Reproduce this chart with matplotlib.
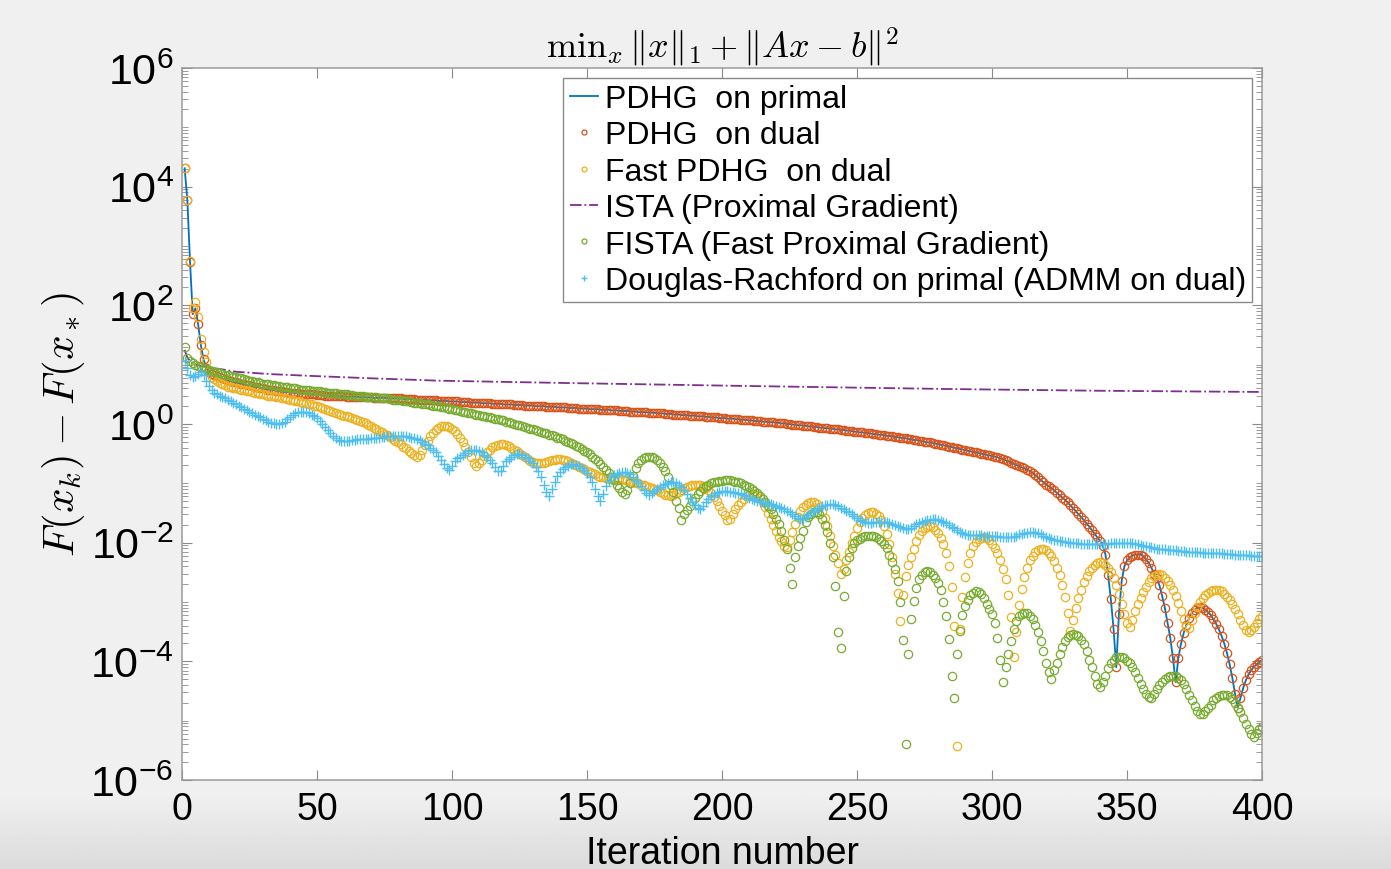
import numpy as np
import matplotlib
matplotlib.use('Agg')
import matplotlib.pyplot as plt
from matplotlib.ticker import FixedLocator, LogLocator, NullFormatter

plt.rcParams['font.family'] = ['Liberation Sans', 'DejaVu Sans']
plt.rcParams['mathtext.fontset'] = 'cm'

# log10 of F(x_k) - F(x_*), iterations 1..400
pdhg_log10 = [
    4.31, 3.77, 2.73, 1.85, 1.95, 1.68, 1.33, 1.09, 0.95, 0.88,
    0.85, 0.83, 0.81, 0.79, 0.77, 0.75, 0.74, 0.72, 0.71, 0.70,
    0.69, 0.68, 0.67, 0.66, 0.65, 0.64, 0.63, 0.62, 0.61, 0.60,
    0.59, 0.58, 0.58, 0.57, 0.56, 0.56, 0.55, 0.54, 0.54, 0.53,
    0.53, 0.52, 0.52, 0.51, 0.51, 0.51, 0.50, 0.50, 0.50, 0.49,
    0.49, 0.49, 0.48, 0.48, 0.48, 0.48, 0.47, 0.47, 0.47, 0.47,
    0.46, 0.46, 0.46, 0.46, 0.46, 0.45, 0.45, 0.45, 0.45, 0.45,
    0.44, 0.44, 0.44, 0.44, 0.44, 0.44, 0.43, 0.43, 0.43, 0.43,
    0.43, 0.42, 0.42, 0.42, 0.42, 0.42, 0.41, 0.41, 0.41, 0.41,
    0.40, 0.40, 0.40, 0.40, 0.39, 0.39, 0.39, 0.39, 0.38, 0.38,
    0.38, 0.38, 0.37, 0.37, 0.37, 0.37, 0.36, 0.36, 0.36, 0.36,
    0.35, 0.35, 0.35, 0.35, 0.34, 0.34, 0.34, 0.34, 0.33, 0.33,
    0.33, 0.33, 0.32, 0.32, 0.32, 0.32, 0.31, 0.31, 0.31, 0.31,
    0.30, 0.30, 0.30, 0.30, 0.29, 0.29, 0.29, 0.29, 0.28, 0.28,
    0.28, 0.28, 0.27, 0.27, 0.27, 0.27, 0.26, 0.26, 0.26, 0.26,
    0.25, 0.25, 0.25, 0.25, 0.24, 0.24, 0.24, 0.24, 0.23, 0.23,
    0.23, 0.22, 0.22, 0.22, 0.22, 0.21, 0.21, 0.21, 0.20, 0.20,
    0.20, 0.20, 0.19, 0.19, 0.19, 0.18, 0.18, 0.18, 0.17, 0.17,
    0.17, 0.16, 0.16, 0.16, 0.15, 0.15, 0.15, 0.14, 0.14, 0.14,
    0.13, 0.13, 0.13, 0.12, 0.12, 0.11, 0.11, 0.11, 0.10, 0.10,
    0.10, 0.09, 0.09, 0.09, 0.08, 0.08, 0.07, 0.07, 0.07, 0.06,
    0.06, 0.05, 0.05, 0.05, 0.04, 0.04, 0.03, 0.03, 0.03, 0.02,
    0.02, 0.01, 0.01, 0.00, 0.00, -0.01, -0.01, -0.02, -0.02, -0.03,
    -0.03, -0.04, -0.04, -0.05, -0.05, -0.06, -0.06, -0.07, -0.07, -0.08,
    -0.08, -0.09, -0.09, -0.10, -0.10, -0.11, -0.11, -0.12, -0.13, -0.13,
    -0.14, -0.14, -0.15, -0.15, -0.16, -0.17, -0.17, -0.18, -0.18, -0.19,
    -0.20, -0.20, -0.21, -0.22, -0.22, -0.23, -0.24, -0.24, -0.25, -0.26,
    -0.27, -0.27, -0.28, -0.29, -0.30, -0.31, -0.31, -0.32, -0.33, -0.34,
    -0.35, -0.36, -0.37, -0.38, -0.39, -0.40, -0.41, -0.42, -0.43, -0.44,
    -0.45, -0.46, -0.47, -0.48, -0.49, -0.50, -0.51, -0.52, -0.53, -0.54,
    -0.55, -0.56, -0.58, -0.59, -0.61, -0.63, -0.65, -0.67, -0.69, -0.71,
    -0.73, -0.75, -0.77, -0.79, -0.82, -0.86, -0.90, -0.94, -0.98, -1.02,
    -1.05, -1.08, -1.12, -1.16, -1.20, -1.24, -1.28, -1.32, -1.37, -1.42,
    -1.47, -1.52, -1.57, -1.62, -1.68, -1.73, -1.79, -1.85, -1.91, -1.97,
    -2.05, -2.20, -2.55, -2.95, -3.45, -4.10, -3.20, -2.65, -2.40, -2.30,
    -2.25, -2.22, -2.20, -2.20, -2.20, -2.23, -2.28, -2.34, -2.42, -2.52,
    -2.60, -2.72, -2.90, -3.10, -3.35, -3.60, -3.95, -4.35, -3.95, -3.70,
    -3.52, -3.38, -3.27, -3.18, -3.13, -3.10, -3.09, -3.10, -3.13, -3.17,
    -3.22, -3.29, -3.37, -3.46, -3.57, -3.70, -3.86, -4.05, -4.28, -4.55,
    -4.78, -4.62, -4.45, -4.32, -4.22, -4.15, -4.09, -4.05, -4.01, -3.98,
]

fast_pdhg_log10 = [
    4.31, 3.77, 2.75, 1.95, 2.05, 1.80, 1.43, 1.21, 1.04, 0.90,
    0.80, 0.75, 0.72, 0.69, 0.67, 0.65, 0.63, 0.62, 0.61, 0.60,
    0.59, 0.58, 0.57, 0.56, 0.55, 0.54, 0.53, 0.52, 0.51, 0.50,
    0.49, 0.48, 0.48, 0.47, 0.46, 0.45, 0.44, 0.43, 0.42, 0.41,
    0.40, 0.39, 0.38, 0.37, 0.36, 0.35, 0.34, 0.33, 0.31, 0.30,
    0.29, 0.27, 0.26, 0.24, 0.22, 0.21, 0.19, 0.17, 0.16, 0.14,
    0.13, 0.11, 0.10, 0.08, 0.06, 0.05, 0.03, 0.01, -0.01, -0.04,
    -0.06, -0.09, -0.12, -0.14, -0.17, -0.19, -0.22, -0.25, -0.28, -0.31,
    -0.34, -0.38, -0.41, -0.45, -0.49, -0.52, -0.56, -0.52, -0.44, -0.36,
    -0.28, -0.21, -0.15, -0.10, -0.06, -0.04, -0.03, -0.03, -0.05, -0.08,
    -0.12, -0.17, -0.23, -0.30, -0.38, -0.47, -0.56, -0.65, -0.71, -0.66,
    -0.60, -0.54, -0.48, -0.43, -0.39, -0.37, -0.35, -0.34, -0.34, -0.35,
    -0.37, -0.40, -0.43, -0.46, -0.49, -0.53, -0.56, -0.59, -0.62, -0.64,
    -0.65, -0.66, -0.66, -0.65, -0.64, -0.62, -0.61, -0.60, -0.59, -0.59,
    -0.60, -0.61, -0.63, -0.65, -0.67, -0.69, -0.72, -0.74, -0.76, -0.79,
    -0.81, -0.83, -0.85, -0.87, -0.89, -0.90, -0.91, -0.92, -0.93, -0.93,
    -0.93, -0.93, -0.93, -0.94, -0.95, -0.96, -0.97, -0.99, -1.00, -1.02,
    -1.03, -1.04, -1.06, -1.08, -1.10, -1.12, -1.15, -1.17, -1.19, -1.20,
    -1.21, -1.20, -1.17, -1.14, -1.11, -1.08, -1.06, -1.04, -1.03, -1.02,
    -1.02, -1.03, -1.05, -1.08, -1.12, -1.17, -1.23, -1.30, -1.38, -1.46,
    -1.54, -1.61, -1.60, -1.52, -1.44, -1.37, -1.31, -1.26, -1.22, -1.20,
    -1.18, -1.18, -1.20, -1.25, -1.32, -1.40, -1.50, -1.60, -1.70, -1.80,
    -1.90, -1.98, -2.05, -2.08, -1.95, -1.82, -1.68, -1.56, -1.47, -1.40,
    -1.36, -1.33, -1.32, -1.32, -1.35, -1.40, -1.47, -1.58, -1.72, -1.88,
    -2.05, -2.20, -2.35, -2.52, -2.45, -2.30, -2.15, -2.01, -1.88, -1.76,
    -1.66, -1.58, -1.53, -1.50, -1.49, -1.49, -1.51, -1.55, -1.62, -1.72,
    -1.85, -2.02, -2.25, -2.52, -2.85, -3.32, -2.88, -2.56, -2.38, -2.24,
    -2.10, -1.97, -1.87, -1.80, -1.75, -1.73, -1.72, -1.74, -1.78, -1.84,
    -1.92, -2.02, -2.18, -2.40, -2.75, -3.41, -5.42, -3.45, -2.92, -2.58,
    -2.35, -2.18, -2.06, -1.99, -1.94, -1.92, -1.91, -1.92, -1.96, -2.02,
    -2.09, -2.18, -2.30, -2.45, -2.62, -2.88, -3.25, -3.92, -3.50, -3.05,
    -2.78, -2.58, -2.42, -2.30, -2.22, -2.16, -2.13, -2.11, -2.11, -2.13,
    -2.17, -2.23, -2.31, -2.42, -2.55, -2.72, -2.92, -3.18, -3.49, -3.30,
    -3.10, -2.93, -2.79, -2.66, -2.56, -2.48, -2.42, -2.37, -2.34, -2.33,
    -2.34, -2.37, -2.42, -2.50, -2.60, -2.72, -2.87, -3.03, -3.20, -3.35,
    -3.42, -3.30, -3.16, -3.04, -2.93, -2.83, -2.74, -2.66, -2.60, -2.56,
    -2.54, -2.53, -2.55, -2.59, -2.65, -2.72, -2.80, -2.90, -3.02, -3.15,
    -3.28, -3.40, -3.43, -3.30, -3.18, -3.08, -3.00, -2.94, -2.89, -2.85,
    -2.82, -2.80, -2.79, -2.80, -2.82, -2.86, -2.91, -2.97, -3.04, -3.12,
    -3.21, -3.30, -3.39, -3.47, -3.51, -3.48, -3.42, -3.35, -3.29, -3.24,
]

ista_iter = [1, 2, 3, 5, 8, 10, 15, 20, 33, 48, 70, 95, 143, 210, 283, 340, 400]
ista_log10 = [1.25, 1.12, 1.06, 1.00, 0.97, 0.95, 0.92, 0.88, 0.84, 0.81,
              0.77, 0.73, 0.69, 0.64, 0.59, 0.56, 0.54]

fista_log10 = [
    1.29, 1.12, 1.06, 1.02, 1.00, 0.98, 0.96, 0.94, 0.92, 0.91,
    0.90, 0.88, 0.87, 0.86, 0.84, 0.83, 0.82, 0.81, 0.80, 0.79,
    0.78, 0.77, 0.75, 0.74, 0.73, 0.72, 0.71, 0.70, 0.69, 0.68,
    0.67, 0.67, 0.66, 0.65, 0.64, 0.64, 0.63, 0.62, 0.62, 0.61,
    0.60, 0.60, 0.59, 0.58, 0.58, 0.57, 0.57, 0.56, 0.56, 0.55,
    0.55, 0.54, 0.54, 0.53, 0.53, 0.52, 0.52, 0.51, 0.51, 0.50,
    0.50, 0.49, 0.49, 0.48, 0.48, 0.47, 0.47, 0.46, 0.46, 0.45,
    0.45, 0.45, 0.44, 0.44, 0.43, 0.43, 0.42, 0.41, 0.41, 0.40,
    0.40, 0.39, 0.38, 0.38, 0.37, 0.36, 0.36, 0.35, 0.34, 0.33,
    0.33, 0.32, 0.31, 0.30, 0.30, 0.29, 0.28, 0.27, 0.26, 0.25,
    0.24, 0.23, 0.22, 0.21, 0.20, 0.19, 0.18, 0.17, 0.16, 0.15,
    0.14, 0.13, 0.12, 0.11, 0.10, 0.09, 0.08, 0.07, 0.06, 0.04,
    0.03, 0.02, 0.00, -0.01, -0.02, -0.04, -0.05, -0.06, -0.08, -0.09,
    -0.10, -0.12, -0.13, -0.15, -0.16, -0.18, -0.19, -0.21, -0.23, -0.24,
    -0.26, -0.28, -0.30, -0.32, -0.34, -0.37, -0.39, -0.42, -0.45, -0.48,
    -0.51, -0.55, -0.59, -0.63, -0.68, -0.72, -0.77, -0.83, -0.89, -0.95,
    -1.02, -1.08, -1.14, -1.18, -1.12, -1.00, -0.88, -0.75, -0.66, -0.60,
    -0.57, -0.56, -0.56, -0.56, -0.58, -0.61, -0.66, -0.72, -0.80, -0.90,
    -1.02, -1.15, -1.30, -1.42, -1.61, -1.52, -1.45, -1.38, -1.30, -1.24,
    -1.18, -1.13, -1.08, -1.05, -1.02, -1.00, -0.98, -0.97, -0.96, -0.96,
    -0.95, -0.95, -0.95, -0.96, -0.97, -0.98, -1.00, -1.02, -1.04, -1.07,
    -1.10, -1.13, -1.17, -1.22, -1.27, -1.32, -1.38, -1.44, -1.52, -1.60,
    -1.69, -1.80, -1.95, -2.11, -2.42, -2.70, -2.25, -2.06, -1.92, -1.80,
    -1.66, -1.56, -1.51, -1.49, -1.49, -1.52, -1.60, -1.70, -1.82, -2.00,
    -2.25, -2.73, -3.51, -3.77, -2.90, -2.48, -2.25, -2.09, -2.00, -1.96,
    -1.93, -1.91, -1.89, -1.88, -1.88, -1.89, -1.91, -1.94, -1.98, -2.03,
    -2.09, -2.20, -2.32, -2.45, -2.65, -3.00, -3.64, -5.40, -3.88, -3.29,
    -2.99, -2.76, -2.62, -2.54, -2.49, -2.48, -2.50, -2.54, -2.59, -2.68,
    -2.80, -3.00, -3.24, -3.63, -4.25, -4.61, -3.88, -3.49, -3.22, -3.07,
    -2.96, -2.89, -2.84, -2.82, -2.83, -2.87, -2.94, -3.03, -3.12, -3.20,
    -3.35, -3.60, -3.97, -4.35, -4.10, -3.88, -3.65, -3.46, -3.32, -3.24,
    -3.20, -3.18, -3.19, -3.23, -3.29, -3.38, -3.50, -3.65, -3.82, -4.02,
    -4.18, -4.30, -4.15, -4.02, -3.88, -3.76, -3.66, -3.59, -3.55, -3.54,
    -3.55, -3.58, -3.64, -3.70, -3.82, -3.97, -4.10, -4.25, -4.38, -4.44,
    -4.35, -4.25, -4.12, -4.03, -3.97, -3.93, -3.92, -3.92, -3.95, -3.99,
    -4.03, -4.10, -4.18, -4.28, -4.38, -4.47, -4.55, -4.60, -4.61, -4.55,
    -4.47, -4.40, -4.34, -4.30, -4.27, -4.25, -4.25, -4.25, -4.28, -4.32,
    -4.38, -4.46, -4.56, -4.66, -4.76, -4.83, -4.88, -4.89, -4.84, -4.79,
    -4.74, -4.66, -4.61, -4.58, -4.56, -4.56, -4.57, -4.60, -4.64, -4.70,
    -4.78, -4.86, -4.96, -5.06, -5.14, -5.22, -5.28, -5.20, -5.14, -5.10,
]

dr_log10 = [
    1.06, 0.95, 0.82, 0.79, 0.81, 0.85, 0.87, 0.82, 0.72, 0.64,
    0.57, 0.53, 0.50, 0.47, 0.45, 0.43, 0.41, 0.39, 0.36, 0.34,
    0.31, 0.28, 0.26, 0.23, 0.21, 0.18, 0.16, 0.13, 0.11, 0.08,
    0.06, 0.04, 0.02, 0.01, 0.00, 0.00, 0.01, 0.04, 0.08, 0.12,
    0.15, 0.18, 0.20, 0.21, 0.21, 0.20, 0.18, 0.16, 0.13, 0.10,
    0.05, 0.00, -0.05, -0.10, -0.15, -0.20, -0.24, -0.27, -0.28, -0.28,
    -0.28, -0.28, -0.27, -0.27, -0.26, -0.26, -0.26, -0.25, -0.25, -0.24,
    -0.24, -0.23, -0.23, -0.22, -0.22, -0.21, -0.21, -0.21, -0.21, -0.21,
    -0.21, -0.21, -0.21, -0.22, -0.23, -0.24, -0.25, -0.27, -0.30, -0.33,
    -0.36, -0.40, -0.44, -0.48, -0.54, -0.61, -0.68, -0.74, -0.77, -0.70,
    -0.63, -0.58, -0.55, -0.52, -0.49, -0.46, -0.44, -0.43, -0.43, -0.45,
    -0.48, -0.52, -0.56, -0.60, -0.66, -0.73, -0.80, -0.79, -0.70, -0.63,
    -0.59, -0.55, -0.53, -0.51, -0.51, -0.52, -0.55, -0.58, -0.62, -0.66,
    -0.72, -0.80, -0.90, -1.02, -1.15, -1.22, -1.10, -0.97, -0.88, -0.81,
    -0.76, -0.72, -0.70, -0.68, -0.68, -0.69, -0.71, -0.74, -0.78, -0.83,
    -0.89, -0.98, -1.10, -1.22, -1.30, -1.18, -1.05, -0.96, -0.90, -0.86,
    -0.84, -0.82, -0.81, -0.81, -0.82, -0.85, -0.89, -0.94, -0.99, -1.05,
    -1.11, -1.16, -1.19, -1.17, -1.13, -1.09, -1.06, -1.03, -1.01, -0.99,
    -0.98, -0.98, -1.00, -1.03, -1.07, -1.12, -1.18, -1.24, -1.31, -1.37,
    -1.42, -1.44, -1.38, -1.31, -1.26, -1.22, -1.19, -1.16, -1.14, -1.13,
    -1.13, -1.13, -1.14, -1.15, -1.16, -1.17, -1.18, -1.20, -1.22, -1.24,
    -1.26, -1.28, -1.30, -1.31, -1.32, -1.33, -1.34, -1.35, -1.36, -1.38,
    -1.40, -1.41, -1.43, -1.46, -1.49, -1.52, -1.55, -1.58, -1.60, -1.60,
    -1.57, -1.53, -1.49, -1.46, -1.44, -1.41, -1.39, -1.37, -1.36, -1.35,
    -1.35, -1.36, -1.38, -1.41, -1.44, -1.47, -1.49, -1.52, -1.55, -1.58,
    -1.61, -1.64, -1.66, -1.67, -1.67, -1.66, -1.65, -1.65, -1.65, -1.66,
    -1.66, -1.67, -1.68, -1.70, -1.72, -1.74, -1.76, -1.77, -1.77, -1.75,
    -1.72, -1.69, -1.67, -1.65, -1.63, -1.62, -1.61, -1.60, -1.60, -1.61,
    -1.63, -1.65, -1.67, -1.70, -1.73, -1.76, -1.79, -1.82, -1.84, -1.86,
    -1.87, -1.87, -1.87, -1.87, -1.87, -1.87, -1.88, -1.88, -1.88, -1.88,
    -1.89, -1.89, -1.90, -1.90, -1.91, -1.91, -1.91, -1.90, -1.88, -1.86,
    -1.85, -1.84, -1.83, -1.82, -1.82, -1.83, -1.84, -1.86, -1.88, -1.90,
    -1.92, -1.93, -1.95, -1.96, -1.97, -1.98, -1.99, -1.99, -2.00, -2.00,
    -2.01, -2.01, -2.02, -2.02, -2.02, -2.03, -2.03, -2.03, -2.03, -2.03,
    -2.03, -2.02, -2.02, -2.01, -2.01, -2.00, -2.00, -2.00, -2.00, -2.00,
    -2.00, -2.01, -2.02, -2.03, -2.04, -2.05, -2.06, -2.07, -2.08, -2.09,
    -2.10, -2.10, -2.11, -2.11, -2.12, -2.12, -2.13, -2.13, -2.14, -2.14,
    -2.14, -2.15, -2.15, -2.15, -2.16, -2.16, -2.16, -2.17, -2.17, -2.17,
    -2.17, -2.18, -2.18, -2.18, -2.18, -2.19, -2.19, -2.19, -2.19, -2.20,
    -2.20, -2.20, -2.21, -2.21, -2.21, -2.22, -2.22, -2.22, -2.23, -2.23,
]

labels = ['PDHG  on primal', 'PDHG  on dual', 'Fast PDHG  on dual',
          'ISTA (Proximal Gradient)', 'FISTA (Fast Proximal Gradient)',
          'Douglas-Rachford on primal (ADMM on dual)']


def iters(v):
    return np.arange(1, len(v) + 1)


fig = plt.figure(figsize=(13.91, 8.70), dpi=100, facecolor='#f0f0f0')

# soft grey shading along the bottom edge, as in the screenshot
bg = fig.add_axes([0, 0, 1, 0.085], zorder=-5)
shade = np.linspace(0.94, 0.86, 50)[:, None] * np.ones((1, 10))
bg.imshow(shade, cmap='gray', vmin=0, vmax=1, aspect='auto', extent=[0, 1, 0, 1])
bg.axis('off')

ax = fig.add_axes([0.1308, 0.1023, 0.7765, 0.8184])

mk = dict(ls='none', mfc='none', ms=6, mew=0.9)
ax.plot(iters(pdhg_log10), 10.0 ** np.array(pdhg_log10), '-', color='#0072BD', lw=1.3, label=labels[0])
ax.plot(iters(pdhg_log10), 10.0 ** np.array(pdhg_log10), marker='o', mec='#D95319', label=labels[1], **mk)
ax.plot(iters(fast_pdhg_log10), 10.0 ** np.array(fast_pdhg_log10), marker='o', mec='#EDB120', label=labels[2], **mk)
ax.plot(ista_iter, 10.0 ** np.array(ista_log10), '-.', color='#7E2F8E', lw=1.3, label=labels[3])
ax.plot(iters(fista_log10), 10.0 ** np.array(fista_log10), marker='o', mec='#77AC30', label=labels[4], **mk)
ax.plot(iters(dr_log10), 10.0 ** np.array(dr_log10), ls='none', marker='+', color='#4DBEEE',
        ms=7, mew=1.0, label=labels[5])

ax.set_yscale('log')
ax.set_xlim(0, 400)
ax.set_ylim(1e-6, 1e6)
ax.set_xticks(np.arange(0, 401, 50))
ax.yaxis.set_major_locator(FixedLocator([1e-6, 1e-4, 1e-2, 1e0, 1e2, 1e4, 1e6]))
ax.yaxis.set_minor_locator(LogLocator(base=10, subs=np.arange(1, 10), numticks=100))
ax.yaxis.set_minor_formatter(NullFormatter())

ax.tick_params(which='both', direction='in', top=True, right=True, color='#8a8a8a')
ax.tick_params(which='major', length=7, labelsize=27, pad=8, labelcolor='black')
ax.tick_params(axis='y', which='major', labelsize=31, pad=6)
ax.tick_params(which='minor', length=4)
for s in ax.spines.values():
    s.set_color('#9a9a9a')
    s.set_linewidth(1.1)

ax.set_xlabel('Iteration number', fontsize=27, labelpad=6)
ax.set_ylabel(r'$F(x_k) - F(x_*)$', fontsize=31, labelpad=2)
ax.set_title(r'$\mathrm{min}_x \, \|x\|_1 + \|Ax - b\|^2$', fontsize=26, pad=8)

leg = ax.legend(loc='upper right', fontsize=23, frameon=True, fancybox=False,
                framealpha=1, edgecolor='#8a8a8a', handlelength=0.9,
                handletextpad=0.2, borderaxespad=0.3, labelspacing=0.2,
                borderpad=0.2, markerscale=0.6)
leg.get_frame().set_linewidth(1.0)

fig.savefig('out.png', dpi=100, facecolor=fig.get_facecolor())
